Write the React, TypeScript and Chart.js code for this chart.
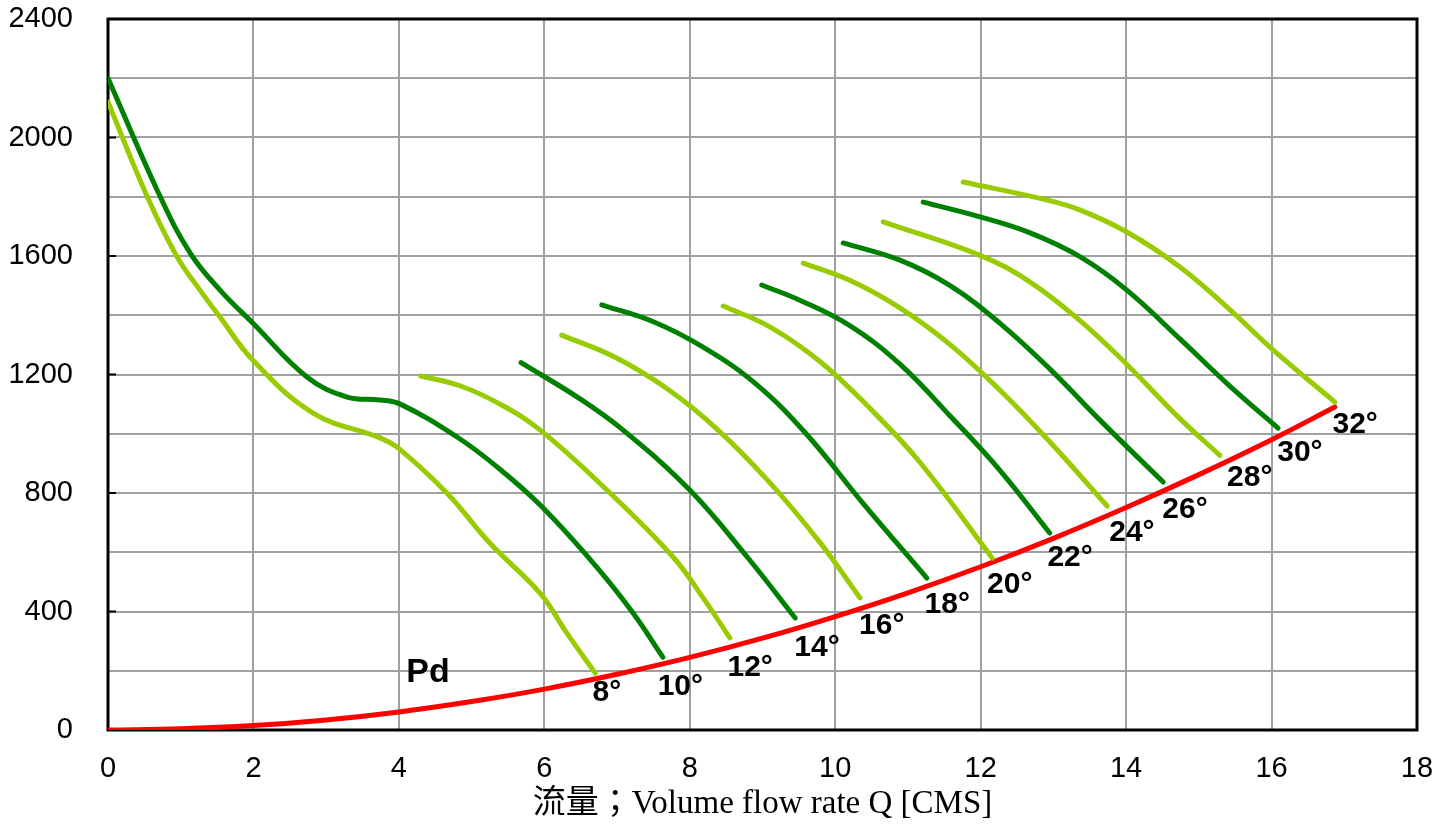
import React, { useEffect, useRef } from "react";
import { Chart, registerables } from "chart.js";

Chart.register(...registerables);

// Pressure curves (Q in CMS, P) for each blade angle
const q8 = [0, 0.54, 0.95, 1.25, 1.54, 1.99, 2.82, 3.74, 4.0, 4.66, 5.25, 5.94, 6.31, 6.7];
const p8 = [2120, 1800, 1597, 1490, 1394, 1249, 1070, 986, 950, 800, 631, 462, 327, 192];
const q10 = [0, 0.72, 1.13, 1.54, 1.99, 2.74, 3.29, 3.74, 4.02, 4.8, 5.35, 5.96, 6.72, 7.22, 7.63];
const p10 = [2200, 1799, 1610, 1485, 1374, 1191, 1124, 1114, 1100, 989, 888, 755, 550, 395, 246];
const q12 = [4.3, 4.84, 5.39, 5.94, 6.86, 7.77, 8.2, 8.55];
const p12 = [1195, 1162, 1100, 1013, 810, 584, 440, 311];
const q14 = [5.68, 6.49, 7.08, 8.0, 8.79, 9.45];
const p14 = [1240, 1118, 1013, 810, 584, 378];
const q16 = [6.24, 7.0, 7.7, 8.4, 9.1, 9.8, 10.34];
const p16 = [1333, 1255, 1150, 1010, 835, 630, 446];
const q18 = [6.79, 7.5, 8.2, 8.9, 9.6, 10.4, 11.26];
const p18 = [1435, 1378, 1290, 1170, 1000, 760, 513];
const q20 = [8.46, 9.1, 9.79, 10.48, 11.17, 12.16];
const p20 = [1431, 1361, 1244, 1085, 902, 580];
const q22 = [8.99, 9.52, 10.2, 10.89, 11.58, 12.27, 12.95];
const p22 = [1502, 1450, 1365, 1235, 1060, 875, 665];
const q24 = [9.56, 10.2, 10.89, 11.58, 12.27, 12.95, 13.74];
const p24 = [1576, 1518, 1425, 1301, 1146, 973, 756];
const q26 = [10.11, 10.89, 11.58, 12.27, 12.95, 13.64, 14.51];
const p26 = [1644, 1586, 1500, 1372, 1219, 1046, 837];
const q28 = [10.66, 11.99, 12.68, 13.37, 14.01, 14.74, 15.29];
const p28 = [1715, 1602, 1512, 1381, 1234, 1051, 927];
const q30 = [11.21, 11.99, 12.68, 13.37, 14.01, 14.74, 15.43, 16.09];
const p30 = [1782, 1732, 1678, 1597, 1485, 1320, 1160, 1019];
const q32 = [11.76, 12.91, 13.37, 14.01, 14.74, 15.43, 16.02, 16.87];
const p32 = [1850, 1789, 1755, 1681, 1563, 1418, 1283, 1107];

// Dynamic pressure Pd
const qPd = [0, 1, 2, 3, 4, 5, 6, 7, 8, 9, 10, 11, 12, 13, 14, 15, 16, 16.87];
const pPd = [0, 4, 15, 34, 61, 96, 138, 188, 245, 310, 383, 463, 551, 647, 751, 862, 980, 1090];

// Angle labels and their anchor positions (data coords)
const angleLabels = ["8°", "10°", "12°", "14°", "16°", "18°", "20°", "22°", "24°", "26°", "28°", "30°", "32°"];
const angleLabelQ = [6.86, 7.87, 8.83, 9.75, 10.64, 11.54, 12.4, 13.23, 14.08, 14.81, 15.7, 16.39, 17.15];
const angleLabelP = [125, 145, 209, 277, 351, 422, 489, 581, 665, 743, 851, 935, 1030];
const pdLabel = "Pd";
const pdLabelQ = 4.4;
const pdLabelP = 192;

const xTitle = "流量；Volume flow rate Q [CMS]";

const LIGHT = "#99cc00";
const DARK = "#008000";
const RED = "#ff0000";

const toPts = (q: number[], p: number[]) => q.map((v, i) => ({ x: v, y: p[i] }));

const curveDefs: [number[], number[], string][] = [
  [q8, p8, LIGHT],
  [q10, p10, DARK],
  [q12, p12, LIGHT],
  [q14, p14, DARK],
  [q16, p16, LIGHT],
  [q18, p18, DARK],
  [q20, p20, LIGHT],
  [q22, p22, DARK],
  [q24, p24, LIGHT],
  [q26, p26, DARK],
  [q28, p28, LIGHT],
  [q30, p30, DARK],
  [q32, p32, LIGHT],
];

const SANS = '"Liberation Sans", Arial, sans-serif';

const framePlugin = {
  id: "frame",
  beforeDatasetsDraw(chart: any) {
    const { ctx, chartArea } = chart;
    const ys = chart.scales.y;
    ctx.save();
    ctx.strokeStyle = "#000";
    ctx.lineWidth = 2;
    for (let v = 400; v < 2400; v += 400) {
      const py = ys.getPixelForValue(v);
      ctx.beginPath();
      ctx.moveTo(chartArea.left, py);
      ctx.lineTo(chartArea.left + 8, py);
      ctx.stroke();
    }
    ctx.lineWidth = 3;
    ctx.strokeRect(chartArea.left, chartArea.top, chartArea.right - chartArea.left, chartArea.bottom - chartArea.top);
    ctx.restore();
  },
  afterDatasetsDraw(chart: any) {
    const { ctx } = chart;
    const xs = chart.scales.x;
    const ys = chart.scales.y;
    ctx.save();
    ctx.fillStyle = "#000";
    ctx.textAlign = "center";
    ctx.textBaseline = "middle";
    ctx.font = `bold 30px ${SANS}`;
    angleLabels.forEach((t, i) => {
      ctx.fillText(t, xs.getPixelForValue(angleLabelQ[i]), ys.getPixelForValue(angleLabelP[i]));
    });
    ctx.font = `bold 34px ${SANS}`;
    ctx.fillText(pdLabel, xs.getPixelForValue(pdLabelQ), ys.getPixelForValue(pdLabelP));
    ctx.restore();
  },
};

export default function App() {
  const ref = useRef<HTMLCanvasElement | null>(null);
  useEffect(() => {
    if (!ref.current) return;
    const datasets: any[] = curveDefs.map(([q, p, c]) => ({
      data: toPts(q, p),
      borderColor: c,
      borderWidth: 5,
      borderCapStyle: "round",
      borderJoinStyle: "round",
      showLine: true,
      pointRadius: 0,
      tension: 0.4,
      fill: false,
    }));
    datasets.push({
      data: toPts(qPd, pPd),
      borderColor: RED,
      borderWidth: 5,
      borderCapStyle: "round",
      showLine: true,
      pointRadius: 0,
      tension: 0.4,
      fill: false,
    });
    const chart = new Chart(ref.current, {
      type: "scatter",
      data: { datasets },
      options: {
        responsive: false,
        animation: false,
        devicePixelRatio: 1,
        layout: { padding: { top: 19, right: 35, left: 0, bottom: 0 } },
        plugins: { legend: { display: false }, tooltip: { enabled: false } },
        scales: {
          x: {
            type: "linear",
            min: 0,
            max: 18,
            afterFit: (s: any) => {
              s.height = 95;
              s.paddingLeft = 0;
              s.paddingRight = 0;
            },
            ticks: {
              stepSize: 2,
              padding: 22,
              color: "#000",
              font: { family: SANS, size: 29 },
            },
            grid: { color: "#a0a0a0", lineWidth: 2, drawTicks: false },
            border: { display: false },
            title: {
              display: true,
              text: xTitle,
              color: "#000",
              font: { family: '"Liberation Serif", "Noto Sans CJK TC", serif', size: 33 },
              padding: { top: 0, bottom: 1 },
            },
          },
          y: {
            type: "linear",
            min: 0,
            max: 2400,
            afterFit: (s: any) => {
              s.width = 108;
              s.paddingTop = 0;
              s.paddingBottom = 0;
            },
            ticks: {
              stepSize: 200,
              padding: 35,
              color: "#000",
              font: { family: SANS, size: 29 },
              callback: (v: any) => (Number(v) % 400 === 0 ? String(v) : ""),
            },
            grid: { color: "#a0a0a0", lineWidth: 2, drawTicks: false },
            border: { display: false },
          },
        },
      },
      plugins: [framePlugin],
    });
    return () => chart.destroy();
  }, []);
  return (
    <div style={{ position: "absolute", left: 0, top: 0, width: 1452, height: 825, background: "#fff" }}>
      <canvas ref={ref} width={1452} height={825} style={{ width: 1452, height: 825, display: "block" }} />
    </div>
  );
}
